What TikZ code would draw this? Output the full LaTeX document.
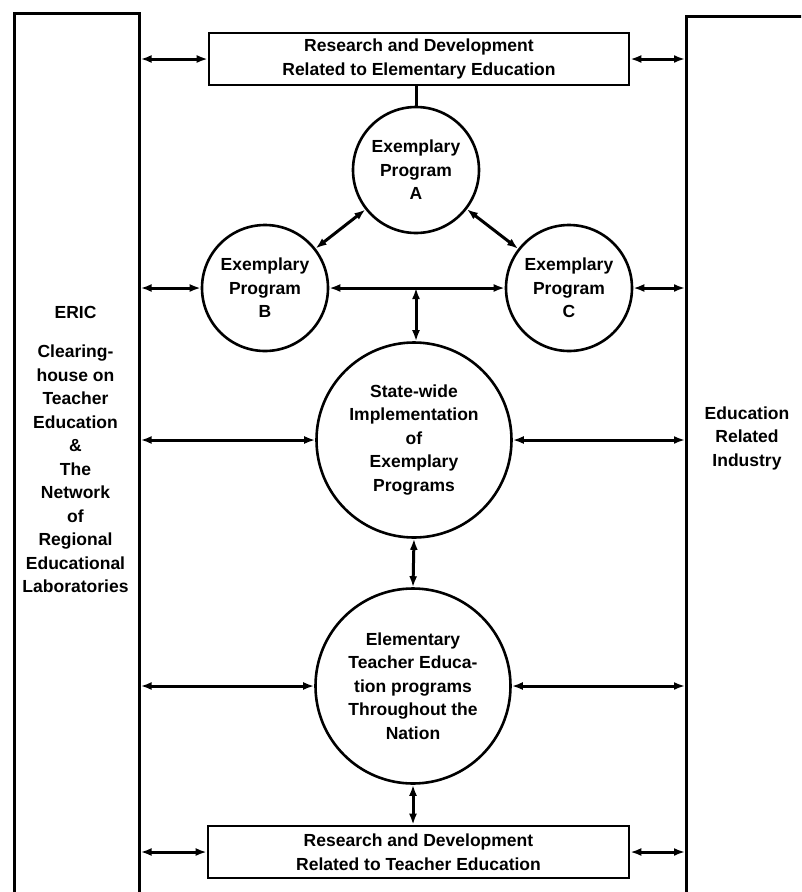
\documentclass[tikz,border=0pt]{standalone}
\usepackage{fontspec}
\setmainfont{Liberation Sans}
\usetikzlibrary{arrows.meta}

\tikzset{
  panel/.style={draw, line width=2.6pt, inner sep=0pt},
  bubble/.style={draw, circle, line width=2.6pt, inner sep=0pt, align=center, font=\bfseries\fontsize{17.5}{23.5}\selectfont},
  caption/.style={align=center, inner sep=0pt, font=\bfseries\fontsize{17.5}{23.5}\selectfont},
  twoway/.style={draw, line width=3pt, {Latex[length=11pt,width=8pt]}-{Latex[length=11pt,width=8pt]}},
  stem/.style={draw, line width=3pt},
}

\begin{document}
\begin{tikzpicture}[x=1pt, y=-1pt]
  \clip (0,0) rectangle (801,892);
  \fill[white] (0,0) rectangle (801,892);

  % Side panels
  \node[panel, minimum width=125pt, minimum height=900pt, anchor=north west] (eric) at (13,12) {};
  \node[panel, minimum width=140pt, minimum height=900pt, anchor=north west] (industry) at (685,15) {};
  \node[caption, anchor=north] (ericlabel) at (75.5,306)
    {ERIC\\[16pt]Clearing-\\house on\\Teacher\\Education\\\&\\The\\Network\\of\\Regional\\Educational\\Laboratories};
  \node[caption] (industrylabel) at (747,438) {Education\\Related\\Industry};

  % Research boxes
  \node[panel, caption, draw, minimum width=420pt, minimum height=52pt] (rdtop) at (419,59)
    {Research and Development\\Related to Elementary Education};
  \node[panel, caption, draw, minimum width=421pt, minimum height=52pt] (rdbot) at (418.5,852)
    {Research and Development\\Related to Teacher Education};

  % Programs
  \node[bubble, minimum size=126pt] (progA) at (416,170) {Exemplary\\Program\\A};
  \node[bubble, minimum size=126pt] (progB) at (265,288) {Exemplary\\Program\\B};
  \node[bubble, minimum size=126pt] (progC) at (569,288) {Exemplary\\Program\\C};
  \node[bubble, minimum size=195pt] (state) at (414,440)
    {State-wide\\Implementation\\of\\Exemplary\\Programs};
  \node[bubble, minimum size=195pt] (nation) at (413,686)
    {Elementary\\Teacher Educa-\\tion programs\\Throughout the\\Nation};

  % Links
  \path[twoway] (rdtop.west -| eric.east) -- (rdtop.west);
  \path[twoway] (rdtop.east) -- (rdtop.east -| industry.west);
  \path[stem] (rdtop.south -| progA.north) -- (progA.north);
  \path[twoway] (progA) -- (progB);
  \path[twoway] (progA) -- (progC);
  \path[twoway] (progB.west -| eric.east) -- (progB.west);
  \path[twoway] (progB) -- (progC);
  \path[twoway] (progC.east) -- (progC.east -| industry.west);
  \coordinate (fork) at (progB.east -| progA.south);
  \path[twoway] (fork) -- (fork |- state.north);
  \path[twoway] (state.west -| eric.east) -- (state.west);
  \path[twoway] (state.east) -- (state.east -| industry.west);
  \path[twoway] (state.south) -- (nation.north);
  \path[twoway] (nation.west -| eric.east) -- (nation.west);
  \path[twoway] (nation.east) -- (nation.east -| industry.west);
  \path[twoway] (nation.south) -- (nation.south |- rdbot.north);
  \path[twoway] (rdbot.west -| eric.east) -- (rdbot.west);
  \path[twoway] (rdbot.east) -- (rdbot.east -| industry.west);

\end{tikzpicture}
\end{document}
